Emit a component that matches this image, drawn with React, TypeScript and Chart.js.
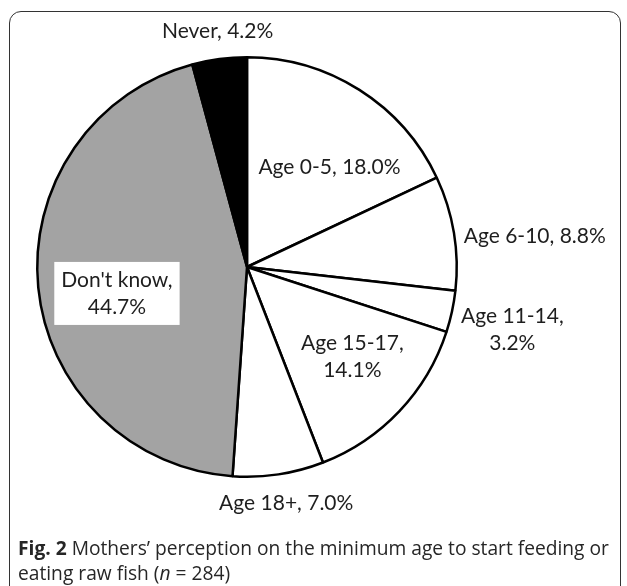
import React, { useEffect, useRef } from "react";
import { Chart, registerables } from "chart.js";

Chart.register(...registerables);

const categories = ["Age 0-5", "Age 6-10", "Age 11-14", "Age 15-17", "Age 18+", "Don't know", "Never"];
const percentages = [18.0, 8.8, 3.2, 14.1, 7.0, 44.7, 4.2];
const sliceColors = ["#ffffff", "#ffffff", "#ffffff", "#ffffff", "#ffffff", "#a3a3a3", "#000000"];

// label placement relative to pie centre, in units of the radius; split = break after comma
const labelLayout = [
  { dx: 0.393, dy: -0.474, split: false, box: false },
  { dx: 1.372, dy: -0.147, split: false, box: false },
  { dx: 1.265, dy: 0.299, split: true, box: false },
  { dx: 0.502, dy: 0.427, split: true, box: false },
  { dx: 0.187, dy: 1.128, split: false, box: false },
  { dx: -0.62, dy: 0.126, split: true, box: true },
  { dx: -0.14, dy: -1.123, split: false, box: false },
];

const LABEL_FONT = "21px Lato";
const LINE_H = 27;

const labelPlugin = {
  id: "pieLabels",
  afterDraw(chart: any) {
    const ctx = chart.ctx;
    const arc = chart.getDatasetMeta(0).data[0];
    if (!arc) return;
    const cx = arc.x;
    const cy = arc.y;
    const r = arc.outerRadius;
    ctx.save();
    ctx.font = LABEL_FONT;
    ctx.textAlign = "center";
    ctx.textBaseline = "middle";
    categories.forEach((cat, i) => {
      const lay = labelLayout[i];
      const val = percentages[i].toFixed(1) + "%";
      const lines = lay.split ? [cat + ",", val] : [cat + ", " + val];
      const x = cx + lay.dx * r;
      const y = cy + lay.dy * r;
      const top = y - ((lines.length - 1) * LINE_H) / 2;
      if (lay.box) {
        let w = 0;
        lines.forEach((l) => (w = Math.max(w, ctx.measureText(l).width)));
        const bw = w + 14;
        const bh = lines.length * LINE_H + 9;
        ctx.fillStyle = "#ffffff";
        ctx.fillRect(x - bw / 2, y - bh / 2, bw, bh);
      }
      ctx.fillStyle = "#1e1e1e";
      lines.forEach((l, k) => ctx.fillText(l, x, top + k * LINE_H));
    });
    ctx.restore();
  },
};

export default function App() {
  const ref = useRef<HTMLCanvasElement | null>(null);
  useEffect(() => {
    if (!ref.current) return;
    const chart = new Chart(ref.current, {
      type: "pie",
      data: {
        labels: categories,
        datasets: [
          {
            data: percentages,
            backgroundColor: sliceColors,
            borderColor: "#000000",
            borderWidth: 2.5,
          },
        ],
      },
      options: {
        responsive: false,
        animation: false,
        layout: { padding: { left: 36, top: 56, right: 169, bottom: 108 } },
        plugins: {
          legend: { display: false },
          tooltip: { enabled: false },
        },
      },
      plugins: [labelPlugin],
    });
    return () => chart.destroy();
  }, []);

  return (
    <div style={{ position: "fixed", left: 0, top: 0, width: 627, height: 586, background: "#fff", overflow: "hidden" }}>
      <div
        style={{
          position: "absolute",
          left: 9,
          top: 11,
          width: 612,
          height: 620,
          border: "1.5px solid #333",
          borderRadius: 12,
          boxSizing: "border-box",
        }}
      />
      <canvas ref={ref} width={627} height={586} style={{ position: "absolute", left: 0, top: 0 }} />
      <div
        style={{
          position: "absolute",
          left: 18,
          top: 535,
          width: 610,
          fontFamily: "'Open Sans', sans-serif",
          fontSize: 19.2,
          lineHeight: "25px",
          color: "#262626",
          whiteSpace: "nowrap",
        }}
      >
        <b>Fig. 2</b> Mothers’ perception on the minimum age to start feeding or
        <br />
        eating raw fish (<i>n</i> = 284)
      </div>
    </div>
  );
}
